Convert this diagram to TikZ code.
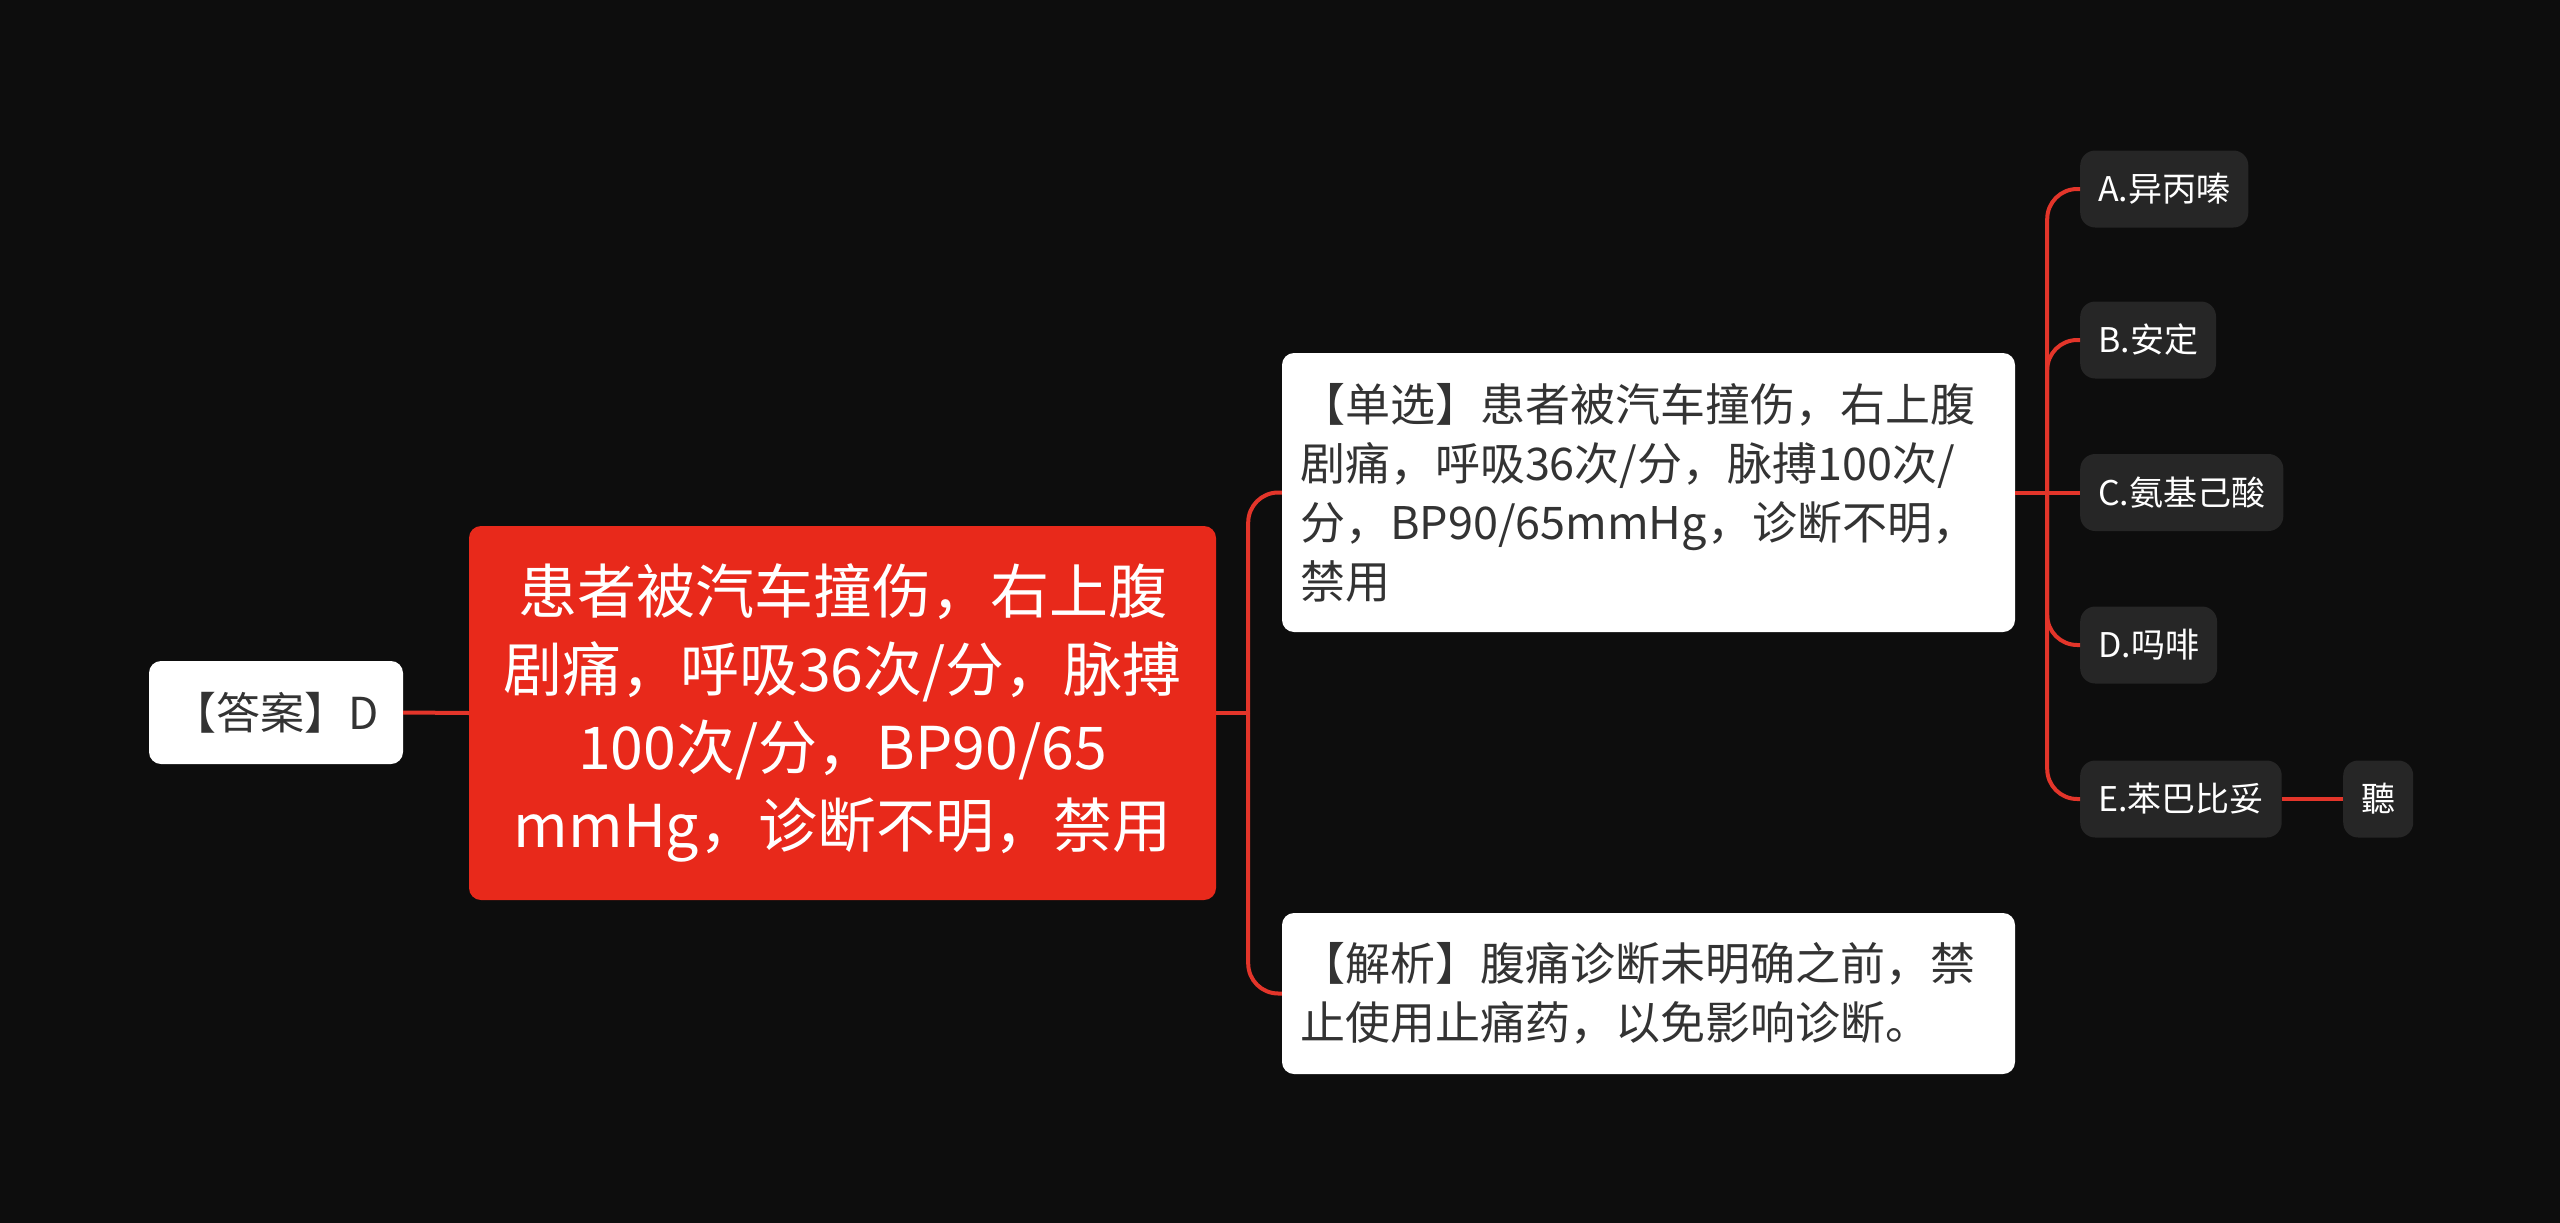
\documentclass[tikz,border=0pt]{standalone}
\usepackage{fontspec}
\setmainfont{Noto Sans CJK SC}
\usepackage{tikz}
\usetikzlibrary{positioning, calc}

\definecolor{bgc}{HTML}{0D0D0D}
\definecolor{rootred}{HTML}{E8291B}
\definecolor{linkred}{HTML}{E3352A}
\definecolor{optgray}{HTML}{262626}
\definecolor{txtdark}{HTML}{333333}

\tikzset{
    link/.style={linkred, line width=4pt},
    rootbox/.style={fill=rootred, text=white, rounded corners=12pt, align=center,
        minimum width=747pt, minimum height=374pt, inner sep=0pt,
        font=\fontsize{59}{78}\selectfont},
    whitebox/.style={fill=white, text=txtdark, rounded corners=12pt, align=left,
        text width=697pt, inner xsep=18pt, inner ysep=0pt,
        font=\fontsize{45}{59}\selectfont},
    optbox/.style={fill=optgray, text=white, rounded corners=15pt, anchor=west,
        minimum height=77pt, inner xsep=18pt, inner ysep=0pt,
        font=\fontsize{34}{40}\selectfont}
}

\begin{document}
\begin{tikzpicture}[x=1pt, y=-1pt]
    % background
    \fill[bgc] (0,0) rectangle (2560,1223);

    \node[rootbox] (root) at (842.5,713) {患者被汽车撞伤，右上腹\\剧痛，呼吸36次/分，脉搏\\100次/分，BP90/65\\mmHg，诊断不明，禁用};
    \node[whitebox, text width=, align=center, minimum width=254pt, minimum height=103pt,
        font=\fontsize{44}{59}\selectfont] (answer) at (276,712.5) {【答案】D};
    \node[whitebox, minimum height=279pt] (single) at (1648.5,492.5)
        {【单选】患者被汽车撞伤，右上腹\\剧痛，呼吸36次/分，脉搏100次/\\分，BP90/65mmHg，诊断不明，\\禁用};
    \node[whitebox, minimum height=161pt] (analysis) at (1648.5,993.5)
        {【解析】腹痛诊断未明确之前，禁\\止使用止痛药，以免影响诊断。};

    % options
    \foreach \name/\txt/\yy in {
        optA/A.异丙嗪/189,
        optB/B.安定/340,
        optC/C.氨基己酸/492.5,
        optD/D.吗啡/645,
        optE/E.苯巴比妥/799}{
        \node[optbox] (\name) at (2080,\yy) {\txt};
    }
    \node[optbox] (listen) at (2343,799) {聽};

    % connectors
    \coordinate (fork1) at ([xshift=32pt]root.east);
    \coordinate (fork2) at ([xshift=32pt]single.east);
    \draw[link] (answer.east) -- (root.west);
    \draw[link] (root.east) -- (fork1);
    \draw[link, rounded corners=30pt] (fork1) |- (single.west);
    \draw[link, rounded corners=30pt] (fork1) |- (analysis.west);
    \draw[link] (single.east) -- (fork2);
    \foreach \name in {optA,optB,optD,optE}{
        \draw[link, rounded corners=30pt] (fork2) |- (\name.west);
    }
    \draw[link] (fork2) -- (optC.west);
    \draw[link] (optE.east) -- (listen.west);
\end{tikzpicture}
\end{document}
